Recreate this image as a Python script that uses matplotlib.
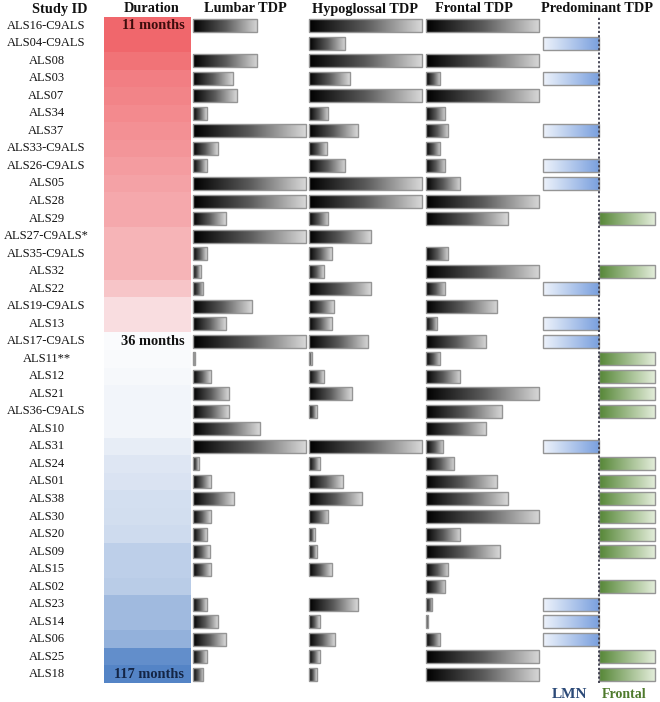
import numpy as np
import matplotlib
matplotlib.use('Agg')
import matplotlib.pyplot as plt
from matplotlib.colors import LinearSegmentedColormap, TwoSlopeNorm
from matplotlib.patches import Rectangle

study_ids = ["ALS16-C9ALS", "ALS04-C9ALS", "ALS08", "ALS03", "ALS07", "ALS34", "ALS37",
             "ALS33-C9ALS", "ALS26-C9ALS", "ALS05", "ALS28", "ALS29", "ALS27-C9ALS*",
             "ALS35-C9ALS", "ALS32", "ALS22", "ALS19-C9ALS", "ALS13", "ALS17-C9ALS",
             "ALS11**", "ALS12", "ALS21", "ALS36-C9ALS", "ALS10", "ALS31", "ALS24",
             "ALS01", "ALS38", "ALS30", "ALS20", "ALS09", "ALS15", "ALS02", "ALS23",
             "ALS14", "ALS06", "ALS25", "ALS18"]

# disease duration (months)
duration = [11, 11, 13, 15, 16, 17, 18, 19, 20, 21, 22, 22, 24, 24, 24, 27, 31, 31, 36,
            37, 38, 40, 40, 40, 46, 50, 52, 55, 56, 58, 66, 66, 68, 80, 80, 86, 110, 117]

# relative TDP burden (fraction of maximum)
lumbar = [0.57, 0.0, 0.57, 0.35, 0.39, 0.12, 1.0, 0.22, 0.12, 1.0, 1.0, 0.29, 1.0,
          0.12, 0.065, 0.09, 0.525, 0.29, 1.0, 0.015, 0.16, 0.32, 0.32, 0.59, 1.0,
          0.047, 0.16, 0.36, 0.16, 0.12, 0.145, 0.16, 0.0, 0.12, 0.22, 0.29, 0.12, 0.09]
hypoglossal = [1.0, 0.32, 1.0, 0.36, 1.0, 0.17, 0.43, 0.155, 0.32, 1.0, 1.0, 0.17, 0.55,
               0.2, 0.127, 0.55, 0.22, 0.2, 0.525, 0.02, 0.127, 0.376, 0.065, 0.0, 1.0,
               0.092, 0.296, 0.47, 0.17, 0.047, 0.065, 0.2, 0.0, 0.43, 0.092, 0.225,
               0.092, 0.065]
frontal = [1.0, 0.0, 1.0, 0.126, 1.0, 0.17, 0.194, 0.126, 0.17, 0.3, 1.0, 0.72, 0.0,
           0.194, 1.0, 0.17, 0.625, 0.1, 0.528, 0.126, 0.3, 1.0, 0.67, 0.528, 0.152,
           0.25, 0.625, 0.72, 1.0, 0.3, 0.65, 0.194, 0.17, 0.056, 0.02, 0.126, 1.0, 1.0]
predominant = ["", "LMN", "", "LMN", "", "", "LMN", "", "LMN", "LMN", "", "Frontal", "",
               "", "Frontal", "LMN", "", "LMN", "LMN", "Frontal", "Frontal", "Frontal",
               "Frontal", "", "LMN", "Frontal", "Frontal", "Frontal", "Frontal", "Frontal",
               "Frontal", "", "Frontal", "LMN", "LMN", "LMN", "Frontal", "Frontal"]

headers = ["Study ID", "Duration", "Lumbar TDP", "Hypoglossal TDP", "Frontal TDP",
           "Predominant TDP"]

plt.rcParams['font.family'] = ['Liberation Serif', 'DejaVu Serif']

W, H = 660, 702
fig = plt.figure(figsize=(W / 100, H / 100), dpi=100)
n = len(study_ids)
top_px, bot_px = 17.0, 683.0
b = 1 - bot_px / H
h = (bot_px - top_px) / H


def add_ax(x0, w, xlim=(0, 1)):
    ax = fig.add_axes([x0 / W, b, w / W, h])
    ax.axis('off')
    ax._want_xlim = xlim
    return ax


def finish(ax):
    ax.set_xlim(*ax._want_xlim)
    ax.set_ylim(n - 0.5, -0.5)


grad = np.linspace(0, 1, 256).reshape(1, -1)
bh = 0.74


def gbar(ax, x0, x1, y, cmap):
    ax.imshow(grad, extent=[x0, x1, y + bh / 2, y - bh / 2], cmap=cmap,
              aspect='auto', interpolation='bilinear', zorder=2)
    ax.add_patch(Rectangle((x0, y - bh / 2), x1 - x0, bh, fill=False,
                           ec='#959595', lw=1.0, zorder=3, clip_on=False))


gray_cmap = LinearSegmentedColormap.from_list('g', ['#000000', '#5a5a5a', '#d8d8d8'])
lmn_cmap = LinearSegmentedColormap.from_list('l', ['#eef3fb', '#7aa0de'])
fro_cmap = LinearSegmentedColormap.from_list('f', ['#558636', '#e3edda'])
dur_cmap = LinearSegmentedColormap.from_list('d', ['#f0676c', '#fbfbfd', '#5484c6'])
dur_norm = TwoSlopeNorm(vmin=11, vcenter=36, vmax=117)

# Study ID labels
ax_lab = add_ax(0, 100)
for i, s in enumerate(study_ids):
    ax_lab.text(0.465, i, s, ha='center', va='center', fontsize=9, color='#111111')
finish(ax_lab)

# Duration column
ax_dur = add_ax(104, 87)
ax_dur.barh(range(n), [1] * n, height=1.0, left=0,
            color=[dur_cmap(dur_norm(d)) for d in duration], edgecolor='none')
for idx, col in [(0, '#3d0c0c'), (duration.index(36), '#111111'), (n - 1, '#142545')]:
    ax_dur.text(0.925, idx, f"{duration[idx]} months", ha='right', va='center',
                fontsize=10.4, fontweight='bold', color=col)
finish(ax_dur)

# TDP columns
for x0, w, vals in [(193.3, 112.3, lumbar), (309.3, 112.7, hypoglossal),
                    (425.7, 113.7, frontal)]:
    ax = add_ax(x0, w)
    for i, v in enumerate(vals):
        if v > 0:
            gbar(ax, 0, v, i, gray_cmap)
    finish(ax)

# Predominant column
ax_p = add_ax(543.3, 112, xlim=(-1, 1))
for i, p in enumerate(predominant):
    if p == "LMN":
        gbar(ax_p, -1, 0, i, lmn_cmap)
    elif p == "Frontal":
        gbar(ax_p, 0, 1, i, fro_cmap)
ax_p.axvline(0, color='#3a3a4a', ls=(0, (1.2, 1.2)), lw=1.3, zorder=4)
finish(ax_p)

# headers
for xc, t in zip([60, 152, 245, 365, 474, 597], headers):
    fig.text(xc / W, 1 - 12.5 / H, t, ha='center', va='baseline', fontsize=10.3,
             fontweight='bold', color='#111111')

fig.text(570 / W, 1 - 698.5 / H, "LMN", ha='center', va='baseline', fontsize=11,
         fontweight='bold', color='#2c4a78')
fig.text(624 / W, 1 - 698.5 / H, "Frontal", ha='center', va='baseline', fontsize=10,
         fontweight='bold', color='#4e7a2c')

fig.savefig('out.png', dpi=100)
